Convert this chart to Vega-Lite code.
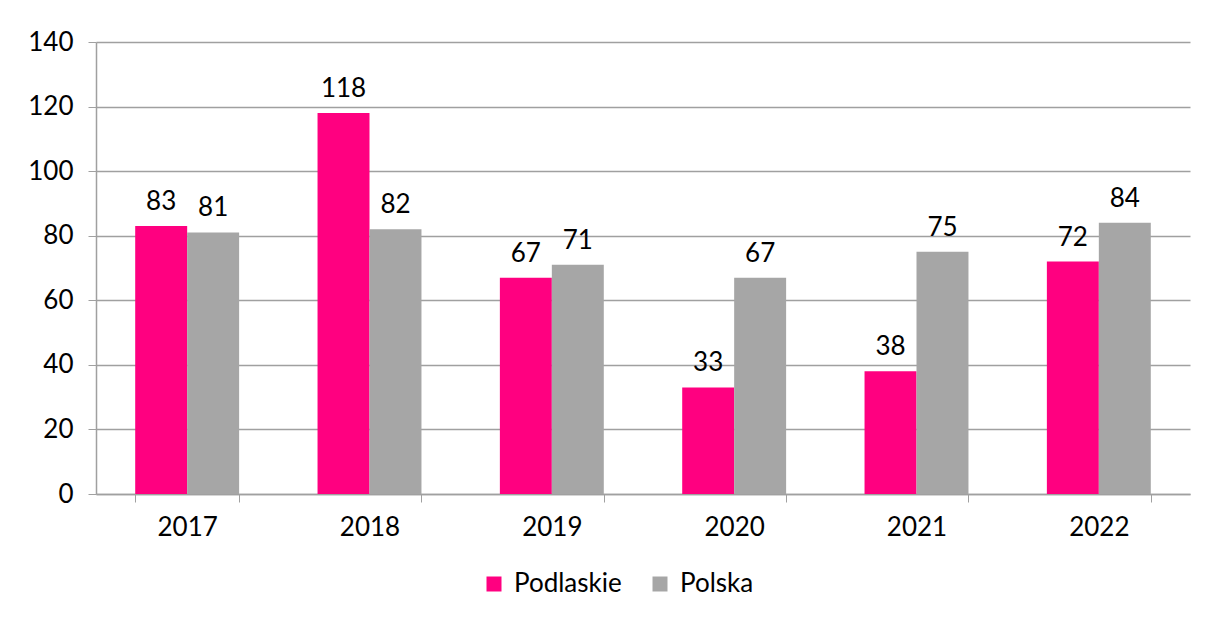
{
  "$schema": "https://vega.github.io/schema/vega-lite/v6.json",
  "autosize": {"type": "none"},
  "padding": {"left": 96, "top": 42, "right": 19, "bottom": 123},
  "width": 1094,
  "height": 452,
  "background": "white",
  "config": {
    "font": "Lato",
    "view": {"stroke": null},
    "axis": {"labelFont": "Lato", "labelFontSize": 26, "labelColor": "#000000", "domainColor": "#A0A0A0", "tickColor": "#A0A0A0", "gridColor": "#A0A0A0", "title": null}
  },
  "data": {
    "values": [
      {"year": "2017", "series": "Podlaskie", "value": 83},
      {"year": "2017", "series": "Polska", "value": 81},
      {"year": "2018", "series": "Podlaskie", "value": 118},
      {"year": "2018", "series": "Polska", "value": 82},
      {"year": "2019", "series": "Podlaskie", "value": 67},
      {"year": "2019", "series": "Polska", "value": 71},
      {"year": "2020", "series": "Podlaskie", "value": 33},
      {"year": "2020", "series": "Polska", "value": 67},
      {"year": "2021", "series": "Podlaskie", "value": 38},
      {"year": "2021", "series": "Polska", "value": 75},
      {"year": "2022", "series": "Podlaskie", "value": 72},
      {"year": "2022", "series": "Polska", "value": 84}
    ]
  },
  "encoding": {
    "x": {"field": "year", "type": "nominal", "scale": {"paddingInner": 0.43, "paddingOuter": 0.215},
      "axis": {"labelAngle": 0, "tickBand": "extent", "tickSize": 8, "labelPadding": 12, "grid": false, "domainWidth": 1.5}},
    "xOffset": {"field": "series", "type": "nominal", "scale": {"paddingInner": 0, "paddingOuter": 0}},
    "y": {"field": "value", "type": "quantitative", "scale": {"domain": [0, 140], "nice": false},
      "axis": {"values": [0, 20, 40, 60, 80, 100, 120, 140], "tickSize": 8, "labelPadding": 15, "grid": true, "gridWidth": 1.5, "domainWidth": 1.5}}
  },
  "layer": [
    {
      "mark": {"type": "bar"},
      "encoding": {
        "color": {"field": "series", "type": "nominal",
          "scale": {"domain": ["Podlaskie", "Polska"], "range": ["#FF0080", "#A6A6A6"]},
          "legend": {"title": null, "orient": "none", "direction": "horizontal", "legendX": 385, "legendY": 529,
            "symbolType": "square", "symbolSize": 225, "symbolStrokeWidth": 0, "labelFontSize": 26, "labelFont": "Lato", "labelColor": "#000000", "columnPadding": 25, "labelOffset": 7}}
      }
    },
    {
      "mark": {"type": "text", "fontSize": 26, "font": "Lato", "color": "#000000", "baseline": "alphabetic", "dy": -16},
      "encoding": {"text": {"field": "value", "type": "quantitative"}}
    }
  ]
}
